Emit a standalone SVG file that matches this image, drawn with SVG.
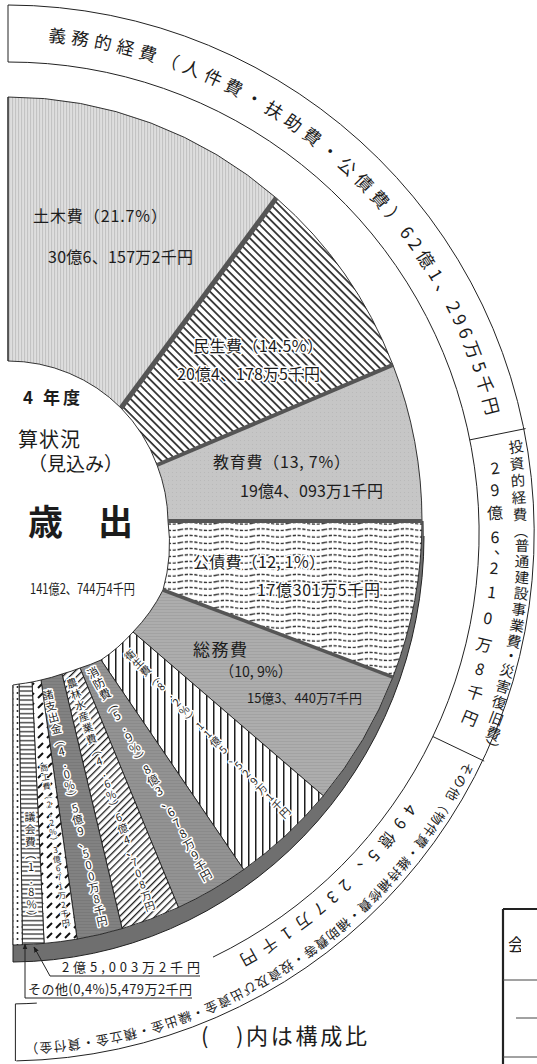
<svg xmlns="http://www.w3.org/2000/svg" width="537" height="1064" viewBox="0 0 537 1064">
<style>
.t{font-family:"Noto Sans CJK JP","Noto Sans CJK SC",sans-serif;fill:#1c1c1c}
.h{stroke:#fff;stroke-width:3;paint-order:stroke;stroke-linejoin:round}
.h2{stroke:#fff;stroke-width:2;paint-order:stroke;stroke-linejoin:round}
.c{text-anchor:middle}
.s{stroke:#1e1e1e;stroke-width:0.9;stroke-linejoin:round}
.ln{fill:none;stroke:#222;stroke-width:1}
.sep{stroke:#555;stroke-linecap:butt}
</style>
<defs>
<pattern id="pDoboku" width="3" height="8" patternUnits="userSpaceOnUse"><rect width="3" height="8" fill="#dedede"/><rect width="1.1" height="8" fill="#c3c3c3"/></pattern>
<pattern id="pMinsei" width="5.5" height="5.5" patternUnits="userSpaceOnUse" patternTransform="rotate(-45)"><rect width="5.5" height="5.5" fill="#fff"/><rect x="2" width="1.6" height="5.5" fill="#1e1e1e"/></pattern>
<pattern id="pKyoiku" width="4" height="4" patternUnits="userSpaceOnUse"><rect width="4" height="4" fill="#c6c6c6"/><rect width="1" height="1" fill="#b9b9b9"/></pattern>
<pattern id="pKosai" width="36" height="6.5" patternUnits="userSpaceOnUse"><rect width="36" height="6.5" fill="#fff"/><path d="M0,3.2 Q9,1.4 18,3.2 T36,3.2" fill="none" stroke="#1e1e1e" stroke-width="1.3" stroke-dasharray="3.2 1.6"/></pattern>
<pattern id="pSomu" width="3" height="3" patternUnits="userSpaceOnUse"><rect width="3" height="3" fill="#adadad"/><rect width="3" height="0.8" fill="#a0a0a0"/></pattern>
<pattern id="pEisei" width="7" height="7" patternUnits="userSpaceOnUse"><rect width="7" height="7" fill="#fff"/><rect x="3" width="1.5" height="7" fill="#1e1e1e"/></pattern>
<pattern id="pShobo" width="3" height="3" patternUnits="userSpaceOnUse"><rect width="3" height="3" fill="#939393"/><rect width="3" height="0.8" fill="#888"/></pattern>
<pattern id="pNorin" width="5" height="5" patternUnits="userSpaceOnUse" patternTransform="rotate(45)"><rect width="5" height="5" fill="#fff"/><rect x="2" width="1.3" height="5" fill="#1e1e1e"/></pattern>
<pattern id="pShoshi" width="3" height="3" patternUnits="userSpaceOnUse"><rect width="3" height="3" fill="#828282"/><rect width="3" height="0.8" fill="#777"/></pattern>
<pattern id="pShoko" width="9" height="10" patternUnits="userSpaceOnUse"><rect width="9" height="10" fill="#fff"/><path d="M2,8 L7,3" stroke="#111" stroke-width="2"/></pattern>
<pattern id="pGikai" width="6" height="4.5" patternUnits="userSpaceOnUse"><rect width="6" height="4.5" fill="#fff"/><rect y="2" width="6" height="1.2" fill="#1e1e1e"/></pattern>
<pattern id="pSonota" width="5" height="6" patternUnits="userSpaceOnUse"><rect width="5" height="6" fill="#fff"/><circle cx="2.5" cy="3" r="1" fill="#1e1e1e"/></pattern>
<clipPath id="rimClip"><rect x="13" y="521" width="530" height="460"/></clipPath>
<clipPath id="tblClip"><rect x="500" y="900" width="21" height="100"/></clipPath>
<marker id="ah" viewBox="0 0 10 10" refX="9" refY="5" markerWidth="6" markerHeight="6" orient="auto"><path d="M0,1 L10,5 L0,9 z" fill="#1e1e1e"/></marker>
<path id="arcTop" d="M8,40 A493,493 0 0 1 493.5,447.4" fill="none"/>
<path id="arcBotO" d="M488.2,707.8 A511,511 0 0 1 -9.8,1043.7" fill="none"/>
<path id="arcBotI" d="M460.9,697.8 A482,482 0 0 1 132.7,998.6" fill="none"/>
</defs>
<rect width="537" height="1064" fill="#fff"/>

<!-- outer classification bands -->
<g id="band-gimu">
<path class="ln" d="M8,5 V62"/>
<text class="t" font-size="17.5" letter-spacing="5.3"><textPath href="#arcTop" startOffset="40">義務的経費（人件費・扶助費・公債費）</textPath></text>
<text class="t" font-size="17.5" letter-spacing="4.5"><textPath href="#arcTop" startOffset="451">62億1、296万5千円</textPath></text>
</g>
<g id="band-frame">
<path class="ln" d="M8,5 A528,528 0 0 1 16.3,1060.9"/>
<path class="ln" d="M8,62 A471,471 0 0 1 213,957.1"/>
<path class="ln" d="M36.8,1003.1 A471,471 0 0 1 15.4,1003.9 V1061"/>
<path class="ln" d="M469.7,439.9 L525.6,428.6"/>
<path class="ln" d="M432.8,736.5 L484.2,761.1"/>
</g>
<g id="band-toshi">
<text class="t c" font-size="14.5" transform="translate(516,447) rotate(-9.6)" y="5">投</text>
<text class="t c" font-size="14.5" transform="translate(517,464) rotate(-7.7)" y="5">資</text>
<text class="t c" font-size="14.5" transform="translate(518,481) rotate(-5.8)" y="5">的</text>
<text class="t c" font-size="14.5" transform="translate(519,498) rotate(-3.9)" y="5">経</text>
<text class="t c" font-size="14.5" transform="translate(520,515) rotate(-2)" y="5">費</text>
<text class="t c" font-size="14.5" transform="translate(521,531)" y="5">︵</text>
<text class="t c" font-size="14.5" transform="translate(522,546) rotate(1.4)" y="5">普</text>
<text class="t c" font-size="14.5" transform="translate(522,562) rotate(3.2)" y="5">通</text>
<text class="t c" font-size="14.5" transform="translate(522,578) rotate(5)" y="5">建</text>
<text class="t c" font-size="14.5" transform="translate(521,594) rotate(6.8)" y="5">設</text>
<text class="t c" font-size="14.5" transform="translate(519,610) rotate(8.6)" y="5">事</text>
<text class="t c" font-size="14.5" transform="translate(517,626) rotate(10.3)" y="5">業</text>
<text class="t c" font-size="14.5" transform="translate(514,642) rotate(12.2)" y="5">費</text>
<text class="t c" font-size="14.5" transform="translate(511,656) rotate(13.7)" y="5">・</text>
<text class="t c" font-size="14.5" transform="translate(507,671) rotate(15.5)" y="5">災</text>
<text class="t c" font-size="14.5" transform="translate(503,687) rotate(17.3)" y="5">害</text>
<text class="t c" font-size="14.5" transform="translate(499,703) rotate(19.1)" y="5">復</text>
<text class="t c" font-size="14.5" transform="translate(496,719) rotate(20.9)" y="5">旧</text>
<text class="t c" font-size="14.5" transform="translate(493,734) rotate(22.5)" y="5">費</text>
<text class="t c" font-size="14.5" transform="translate(490,748) rotate(24)" y="5">︶</text>
<text class="t c" font-size="16" transform="translate(495,468) rotate(-7.6)" y="6">2</text>
<text class="t c" font-size="16" transform="translate(495,490) rotate(-5)" y="6">9</text>
<text class="t c" font-size="16" transform="translate(495,513) rotate(-2.3)" y="6">億</text>
<text class="t c" font-size="16" transform="translate(495,537) rotate(0.5)" y="6">6</text>
<text class="t c" font-size="16" transform="translate(502,548) rotate(2)" y="6">、</text>
<text class="t c" font-size="16" transform="translate(494,568) rotate(4.1)" y="6">2</text>
<text class="t c" font-size="16" transform="translate(492,592) rotate(6.9)" y="6">1</text>
<text class="t c" font-size="16" transform="translate(488,618) rotate(10)" y="6">0</text>
<text class="t c" font-size="16" transform="translate(484,645) rotate(13.1)" y="6">万</text>
<text class="t c" font-size="16" transform="translate(480,669) rotate(16.3)" y="6">8</text>
<text class="t c" font-size="16" transform="translate(475,693) rotate(19.2)" y="6">千</text>
<text class="t c" font-size="16" transform="translate(470,718) rotate(22.8)" y="6">円</text>
</g>
<g id="band-sonota">
<text class="t" font-size="13" letter-spacing="1.1"><textPath href="#arcBotO" startOffset="58">その他（物件費・維持補修費・補助費等・投資及び出資金・繰出金・積立金・貸付金）</textPath></text>
<text class="t" font-size="16" letter-spacing="8"><textPath href="#arcBotI" startOffset="118">49億5、237万1千円</textPath></text>
</g>

<!-- pie rim (3D edge) -->
<g id="pie-rim">
<path clip-path="url(#rimClip)" fill="#6f6f6f" fill-rule="evenodd" d="M-404,536 A414,426 0 1 0 424,536 A414,426 0 1 0 -404,536 Z M-406,521 A414,424 0 1 0 422,521 A414,424 0 1 0 -406,521 Z"/>
<path class="ln" d="M424,536 A414,426 0 0 1 13,962"/>
<path class="ln" d="M13,685 V962"/>
</g>

<!-- slices -->
<g id="s-doboku">
<path class="s" fill="url(#pDoboku)" d="M8,361 L8,97 A414,424 0 0 1 276.3,198 L121,408 A160,160 0 0 0 8,361 Z"/>
<text class="t" x="33" y="222" font-size="16" textLength="134" lengthAdjust="spacing">土木費（21.7%）</text>
<text class="t" x="48" y="263" font-size="16" textLength="145" lengthAdjust="spacing">30億6、157万2千円</text>
</g>
<g id="s-minsei">
<path class="s" fill="url(#pMinsei)" d="M121,408 L276.3,198 A414,424 0 0 1 392.9,364.9 L157,465 A160,160 0 0 0 121,408 Z"/>
<text class="t h" x="193" y="352" font-size="16" textLength="130" lengthAdjust="spacing">民生費（14.5%）</text>
<text class="t h" x="177" y="380" font-size="16" textLength="143" lengthAdjust="spacing">20億4、178万5千円</text>
</g>
<g id="s-kyoiku">
<path class="s" fill="url(#pKyoiku)" d="M157,465 L392.9,364.9 A414,424 0 0 1 422,521 L168,521 A160,160 0 0 0 157,465 Z"/>
<text class="t" x="213" y="468" font-size="16" textLength="137" lengthAdjust="spacing">教育費（13, 7%）</text>
<text class="t" x="240" y="497" font-size="16" textLength="143" lengthAdjust="spacing">19億4、093万1千円</text>
</g>
<g id="s-kosai">
<path class="s" fill="url(#pKosai)" d="M168,521 L422,521 A414,424 0 0 1 392.9,677.1 L163,590 A170,170 0 0 0 168,521 Z"/>
<text class="t h" x="193" y="568" font-size="16" textLength="132" lengthAdjust="spacing">公債費（12, 1%）</text>
<text class="t h" x="257" y="596" font-size="16" textLength="123" lengthAdjust="spacing">17億301万5千円</text>
</g>
<g id="s-somu">
<path class="s" fill="url(#pSomu)" d="M163,590 L392.9,677.1 A414,424 0 0 1 323.3,795.8 L133,632 A168,168 0 0 0 163,590 Z"/>
<text class="t" x="193" y="656" font-size="17" textLength="54" lengthAdjust="spacing">総務費</text>
<text class="t" x="220" y="677" font-size="15" textLength="72" lengthAdjust="spacingAndGlyphs">（10, 9%）</text>
<text class="t" x="247" y="703" font-size="13" textLength="115" lengthAdjust="spacingAndGlyphs">15億3、440万7千円</text>
</g>
<g id="s-eisei">
<path class="s" fill="url(#pEisei)" d="M133,632 L323.3,795.8 A414,424 0 0 1 243.7,869.6 L101,660 A166,166 0 0 0 133,632 Z"/>
<text class="t h c" font-size="10.5" transform="translate(130,655) rotate(-44.5)" x="0 0 0 0 0 0 0 0 0 0 0 0 0 0 0 0 0 0 0 0 0" y="4 15.1 26.1 37.2 48.2 59.3 70.3 81.4 92.4 103.5 114.5 125.6 136.6 147.7 158.7 169.8 180.8 191.9 202.9 214 225">衛生費︵8.2%︶11億5、529万1千円</text>
</g>
<g id="s-shobo">
<path class="s" fill="url(#pShobo)" d="M101,660 L243.7,869.6 A414,424 0 0 1 178.4,907.4 L80,668 A164,164 0 0 0 101,660 Z"/>
<text class="t h c" font-size="11.5" transform="translate(93,673) rotate(-29.2)" x="0 0 0 0 0 0 0 0 0 0 0 0 0 0 0 0 0 0 0 0" y="4 16.3 28.6 40.9 53.2 65.5 77.8 90.1 102.4 114.7 127 139.3 151.6 163.9 176.2 188.5 200.8 213.1 225.4 236">消防費︵5.9%︶8億3、678万9千円</text>
</g>
<g id="s-norin">
<path class="s" fill="url(#pNorin)" d="M80,668 L178.4,907.4 A414,424 0 0 1 122.1,928.6 L62,674 A164,164 0 0 0 80,668 Z"/>
<text class="t h c" font-size="10.5" transform="translate(72,683) rotate(-19.2)" x="0 0 0 0 0 0 0 0 0 0 0 0 0 0 0 0 0 0 0 0 0" y="4 15.9 27.7 39.6 51.4 63.3 75.2 87 98.9 110.7 122.6 134.5 146.3 158.2 170 181.9 193.8 205.6 217.5 229.3 240">農林水産業費︵4.6%︶6億4、708万円</text>
</g>
<g id="s-shoshi">
<path class="s" fill="url(#pShoshi)" d="M62,674 L122.1,928.6 A414,424 0 0 1 77.1,939.1 L41,680 A164,164 0 0 0 62,674 Z"/>
<text class="t h c" font-size="11" transform="translate(48,695) rotate(-13.4)" x="0 0 0 0 0 0 0 0 0 0 0 0 0 0 0 0 0 0 0 0 0" y="4 15.7 27.3 39 50.6 62.3 74 85.6 97.3 108.9 120.6 132.3 143.9 155.6 167.2 178.9 190.6 202.2 213.9 225.5 236.5">諸支出金︵4.0%︶5億9、500万8千円</text>
</g>
<g id="s-shoko">
<path class="s" fill="url(#pShoko)" d="M41,680 L77.1,939.1 A414,424 0 0 1 44.1,943.4 L32,682 A164,164 0 0 0 41,680 Z"/>
<text class="t h2 c" font-size="8" transform="translate(44,768) rotate(-8)" x="0 0 0 0 0 0 0 0 0 0 0 0 0 0 0 0 0 0" y="3 12.2 21.4 30.6 39.8 49 58.2 67.4 76.6 85.8 95 104.2 113.4 122.6 131.8 141 150.2 159.4">商工費︵2.2%︶3億671万2千円</text>
</g>
<g id="s-gikai">
<path class="s" fill="url(#pGikai)" d="M32,682 L44.1,943.4 A414,424 0 0 1 22.4,944.7 L19,684 A164,164 0 0 0 32,682 Z"/>
<text class="t h c" font-size="11" transform="translate(30,817) rotate(-1)" x="0 0 0 0 0 0 0 0 0" y="4 16.5 29 41.5 54 66.5 79 91.5 104">議会費︵1.8%︶</text>
</g>
<g id="s-sonota">
<path class="s" fill="url(#pSonota)" d="M19,684 L22.4,944.7 A414,424 0 0 1 13,945 L13,685 A164,164 0 0 0 19,684 Z"/>
</g>

<!-- 3D separators -->
<g id="separators">
<line class="sep" x1="121" y1="408" x2="276.3" y2="198" stroke-width="5"/>
<line class="sep" x1="157" y1="465" x2="392.9" y2="364.9" stroke-width="4"/>
<line class="sep" x1="168" y1="521" x2="422" y2="521" stroke-width="4"/>
<line class="sep" x1="163" y1="590" x2="392.9" y2="677.1" stroke-width="3.5"/>
<path class="ln" d="M8,97 V361"/>
</g>

<!-- centre title -->
<g id="center-title">
<text class="t" x="23" y="404" font-size="17" font-weight="700" textLength="57" lengthAdjust="spacing">4 年度</text>
<text class="t" x="18" y="447" font-size="20" textLength="62" lengthAdjust="spacing">算状況</text>
<text class="t" x="28" y="471" font-size="19" textLength="95" lengthAdjust="spacing">（見込み）</text>
<text class="t" x="28" y="535" font-size="35" font-weight="700">歳　出</text>
<text class="t" x="30" y="594" font-size="14" textLength="105" lengthAdjust="spacingAndGlyphs">141億2、744万4千円</text>
</g>

<!-- connectors -->
<g id="connectors">
<path class="ln" d="M200,976 H50 L34,947" marker-end="url(#ah)"/>
<path class="ln" d="M192,998 H25 V944" marker-end="url(#ah)"/>
</g>
<g id="note-gikai">
<text class="t" x="62" y="972" font-size="13" textLength="138" lengthAdjust="spacing">2億5,003万2千円</text>
</g>
<g id="note-sonota">
<text class="t" x="28" y="994" font-size="13" textLength="164" lengthAdjust="spacing">その他(0,4%)5,479万2千円</text>
</g>
<g id="legend-note">
<text class="t" x="201" y="1044" font-size="22" textLength="166" lengthAdjust="spacing">(　)内は構成比</text>
</g>
<g id="table-edge">
<path d="M503,909 H537 M503,909 V1064" fill="none" stroke="#222" stroke-width="2.2"/>
<path d="M503,980 H537 M516,1018 H537 M503,1057 H537" fill="none" stroke="#444" stroke-width="1"/>
<text class="t" x="508" y="951" font-size="17" clip-path="url(#tblClip)">会</text>
</g>
</svg>
